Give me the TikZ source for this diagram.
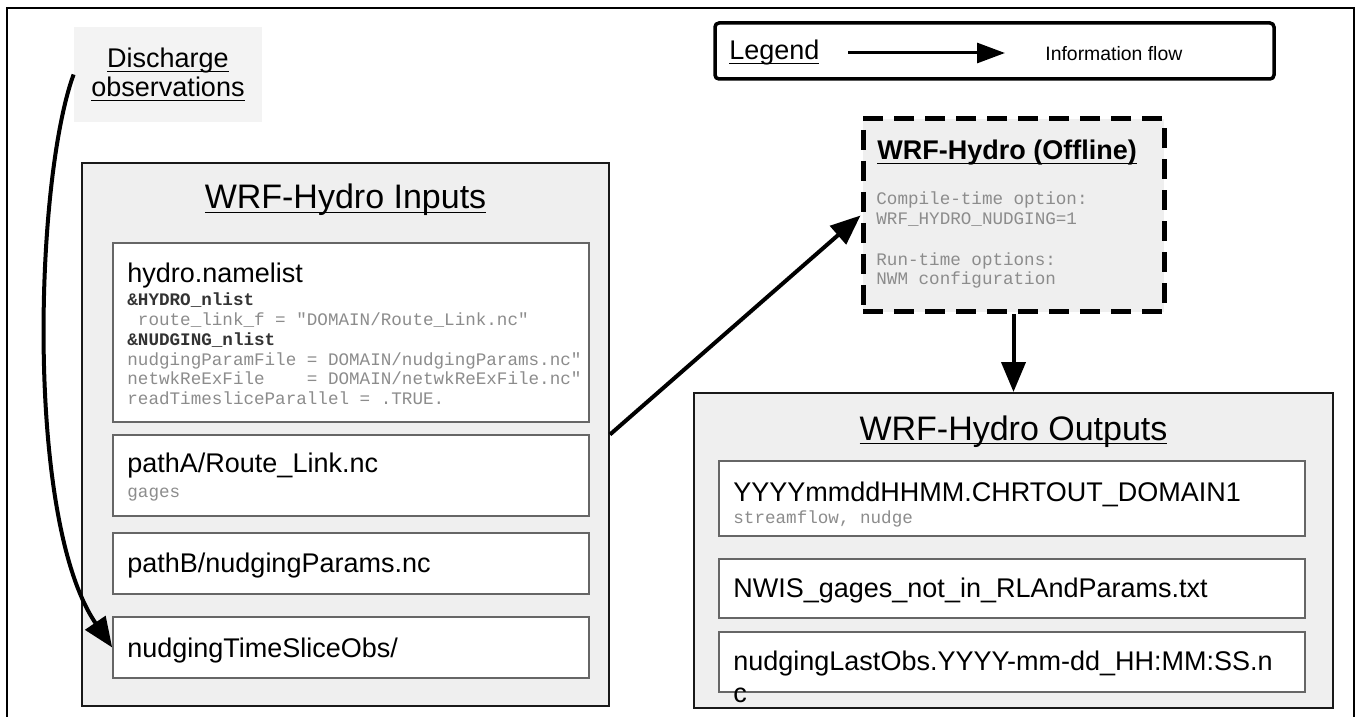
\documentclass[tikz,border=0pt]{standalone}
\usepackage{fontspec}
\setmainfont{Liberation Sans}
\setmonofont{Liberation Mono}
\usetikzlibrary{arrows.meta, fit}

\definecolor{boxgray}{HTML}{EFEFEF}
\definecolor{obsgray}{HTML}{F3F3F3}
\definecolor{edgegray}{HTML}{666666}
\definecolor{codegray}{HTML}{8C8C8C}
\definecolor{codedark}{HTML}{333333}

% underline at a fixed depth, through the descenders
\newcommand{\ulx}[1]{\underline{\raisebox{0pt}[\height][0.03em]{#1}}}

\begin{document}
\begin{tikzpicture}[x=0.5pt, y=-0.5pt,
  font=\fontsize{13.5pt}{16pt}\selectfont,
  outer/.style={draw=black!90, line width=1pt, fill=boxgray, inner sep=0pt},
  file/.style={draw=edgegray, line width=0.8pt, fill=white, inner sep=0pt},
  txt/.style={anchor=base west, inner sep=0pt},
  code/.style={anchor=base west, inner sep=0pt, text=codegray,
    font=\ttfamily\fontsize{8.8pt}{10pt}\selectfont},
  big/.style={anchor=base, inner sep=0pt, font=\fontsize{17pt}{20pt}\selectfont},
  flow/.style={line width=2pt, -{Triangle[length=15pt, width=12pt]}}]

\useasboundingbox (0,0) rectangle (1357,717);

% frame
\draw[line width=1pt] (7,730) -- (7,8) -- (1354,8) -- (1354,730);

% observations
\node (obs) [fill=obsgray, minimum width=94pt, minimum height=47.5pt, align=center,
  inner sep=0pt, font=\fontsize{13.5pt}{14.5pt}\selectfont] at (168,74.5)
  {\ulx{Discharge}\\\ulx{observations}};

% legend
\node (legend) [draw, line width=1.75pt, rounded corners=2pt, inner sep=0pt,
  fit={(715,23) (1274,79)}] {};
\node (legendTxt) [txt] at (729,60) {\ulx{Legend}};
\coordinate (flowA) at (848,53);
\coordinate (flowB) at (1005,53);
\draw[line width=1.5pt, -{Triangle[length=14pt, width=10pt]}] (flowA) -- (flowB);
\node (flowTxt) [txt, font=\fontsize{9.7pt}{11pt}\selectfont] at (1045,61) {Information flow};

% inputs
\node (inputs) [outer, fit={(82,163) (609,706)}] {};
\node (inputsTitle) [big] at (345.5,209) {\ulx{WRF-Hydro Inputs}};

\node (namelist) [file, fit={(113,243) (589,422)}] {};
\node (nlTitle) [txt] at (127,283) {hydro.namelist};
\foreach \line [count=\i] in {
  {\textcolor{codedark}{\textbf{\&HYDRO\_nlist}}},
  {\hphantom{r}route\_link\_f = "DOMAIN/Route\_Link.nc"},
  {\textcolor{codedark}{\textbf{\&NUDGING\_nlist}}},
  {nudgingParamFile = DOMAIN/nudgingParams.nc"},
  {netwkReExFile\hphantom{rrrr}= DOMAIN/netwkReExFile.nc"},
  {readTimesliceParallel = .TRUE.}}
  \node (nl\i) [code] at (127,286+\i*19.8) {\line};

\node (routelink) [file, fit={(113,435) (589,516)}] {};
\node (routelinkTxt) [txt] at (127,473) {pathA/Route\_Link.nc};
\node (gages) [code] at (127,497) {gages};

\node (params) [file, fit={(113,533) (589,594)}] {};
\node (paramsTxt) [txt] at (127,572) {pathB/nudgingParams.nc};

\node (tso) [file, fit={(113,617) (589,678)}] {};
\node (tsoTxt) [txt] at (127,657) {nudgingTimeSliceObs/};

% model
\node (offline) [draw, fill=boxgray, line width=2.5pt, dash pattern=on 10pt off 5.5pt,
  inner sep=0pt, fit={(863,119) (1164,312)}] {};
\node (offTitle) [txt, font=\fontsize{13.5pt}{16pt}\selectfont\bfseries] at (877,160)
  {\ulx{WRF-Hydro (Offline)}};
\node (compile) [code] at (876,205) {Compile-time option:};
\node (compileVal) [code] at (876,225) {WRF\_HYDRO\_NUDGING=1};
\node (runtime) [code] at (876,265) {Run-time options:};
\node (runtimeVal) [code] at (876,285) {NWM configuration};

% outputs
\node (outputs) [outer, fit={(694,393) (1333,708)}] {};
\node (outputsTitle) [big] at (1013.5,440) {\ulx{WRF-Hydro Outputs}};

\node (chrtout) [file, fit={(719,461) (1305,536)}] {};
\node (chrtoutTxt) [txt] at (733,502) {YYYYmmddHHMM.CHRTOUT\_DOMAIN1};
\node (chrtoutVars) [code] at (733,523) {streamflow, nudge};

\node (nwis) [file, fit={(719,559) (1305,618)}] {};
\node (nwisTxt) [txt] at (733,597) {NWIS\_gages\_not\_in\_RLAndParams.txt};

\node (lastobs) [file, fit={(719,632) (1305,692)}] {};
\node (lastobsTxt) [txt] at (733,670) {nudgingLastObs.YYYY-mm-dd\_HH:MM:SS.n};
\node (lastobsWrap) [txt] at (733,702) {c};

% information flow
\draw[flow] (obs.west) .. controls (35,180) and (25,520) .. (tso.west);
\draw[flow] (inputs.east) -- (offline.west);
\draw[flow] (offline.south) -- (outputs.north);

\end{tikzpicture}
\end{document}
